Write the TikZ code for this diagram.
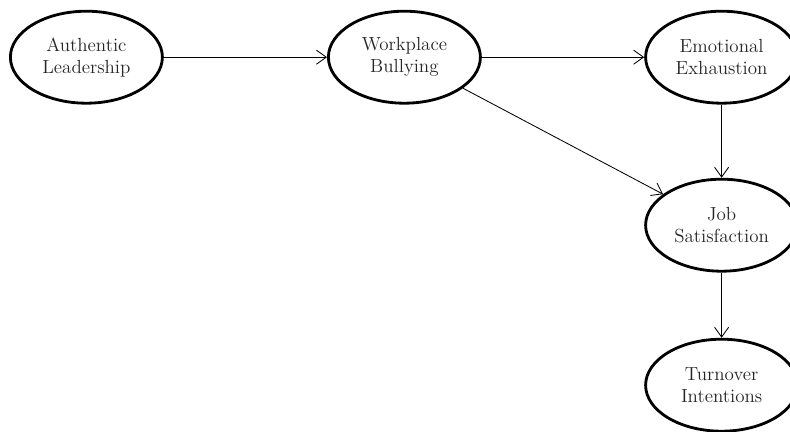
\documentclass[tikz,border=0pt]{standalone}
\usepackage{tikz}
\usetikzlibrary{arrows.meta,shapes.geometric}
\usetikzlibrary{positioning}
\tikzset{arrowout/.style={-{Straight Barb[length=7pt,width=10pt]},semithick},latent/.style={ellipse, draw=black, line width=2pt, minimum width=3.8cm, minimum height=2.3cm, inner sep=0pt, text=black!85, font={\fontsize{13.5}{15.6}\selectfont}}}

\begin{document}
\begin{tikzpicture} [align=center]
\useasboundingbox (0,0) rectangle (19.75,-10.8);

\node(auth) at (2.16, -1.43) [latent] {Authentic\\Leadership};
\node(work) at (10.11, -1.43) [latent] {Workplace\\Bullying};
\node(emot) at (18.04, -1.43) [latent] {Emotional\\Exhaustion};
\node(job) at (18.04, -5.63) [latent] {Job\\Satisfaction};
\node(turn) at (18.04, -9.63) [latent] {Turnover\\Intentions};

\draw (auth) edge[arrowout] (work);
\draw (work) edge[arrowout] (emot);
\draw (work) edge[arrowout] (job);
\draw (emot) edge[arrowout] (job);
\draw (job) edge[arrowout] (turn);

\end{tikzpicture}
\end{document}
